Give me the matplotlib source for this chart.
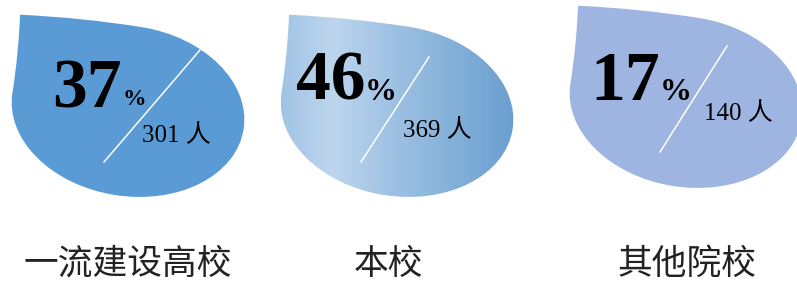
import numpy as np
import matplotlib.pyplot as plt
from matplotlib.path import Path
from matplotlib.patches import PathPatch
from matplotlib.colors import LinearSegmentedColormap

#%% datos
categorias = ['一流建设高校', '本校', '其他院校']
porcentajes = [37, 46, 17]
personas = [301, 369, 140]

#%% layout (pixeles, y hacia abajo)
W, H = 797, 282
centros = [(128, 111), (397, 111), (686, 102)]
rx, ry, rot = 117, 85, 9.0
tip = (-1.04, -0.92)
colores = ['#5B9BD5', None, '#9DB5E0']
grad = ['#A0C3E5', '#BDD6EE', '#9CC0E2', '#6A9FD0']

num_pos = [(52, 107), (296, 100), (590, 100)]
pct_pos = [(123, 105), (365, 100), (660, 100)]
pct_size = [17, 23, 23]
cnt_pos = [(142, 142), (403, 137), (704, 120)]
lineas = [((104, 162), (200, 50)), ((361, 162), (429, 57)), ((660, 152), (727, 46))]
lab_x = [128, 388, 687]
lab_y = 274


def gota(cx, cy):
    k = 0.5523
    tx, ty = tip
    pts = [(0, -1),
           (k, -1), (1, -k), (1, 0),
           (1, k), (k, 1), (0, 1),
           (-k, 1), (-1, k), (-1, 0),
           (-1, ty / 2), (tx, ty),
           (tx / 2, -1), (0, -1),
           (0, -1)]
    codes = ([Path.MOVETO] + [Path.CURVE4] * 9 + [Path.CURVE3] * 4 + [Path.CLOSEPOLY])
    pts = np.array(pts, float) * [rx, ry]
    a = np.deg2rad(rot)
    R = np.array([[np.cos(a), -np.sin(a)], [np.sin(a), np.cos(a)]])
    pts = pts @ R.T + [cx, cy]
    return Path(pts, codes)


fig = plt.figure(figsize=(W / 100, H / 100), dpi=100)
ax = fig.add_axes([0, 0, 1, 1])

for i in range(3):
    cx, cy = centros[i]
    path = gota(cx, cy)
    if colores[i] is not None:
        ax.add_patch(PathPatch(path, facecolor=colores[i], edgecolor='none'))
    else:
        # gota con degradado horizontal
        patch = PathPatch(path, facecolor='none', edgecolor='none')
        ax.add_patch(patch)
        cmap = LinearSegmentedColormap.from_list('g', list(zip([0, 0.22, 0.5, 1], grad)))
        ext = path.get_extents()
        im = ax.imshow(np.linspace(0, 1, 256)[None, :], cmap=cmap,
                       extent=[ext.x0, ext.x1, ext.y1, ext.y0], interpolation='bilinear')
        im.set_clip_path(patch)

    (x0, y0), (x1, y1) = lineas[i]
    ax.plot([x0, x1], [y0, y1], color='white', lw=1.1)

    ax.text(*num_pos[i], str(porcentajes[i]), fontsize=50, fontweight='bold',
            family='Liberation Serif', ha='left', va='baseline')
    ax.text(*pct_pos[i], '%', fontsize=pct_size[i], fontweight='bold',
            family='Liberation Serif', ha='left', va='baseline')
    ax.text(*cnt_pos[i], f'{personas[i]} 人', fontsize=18,
            family=['Liberation Serif', 'Noto Sans CJK SC'], ha='left', va='baseline')

    ax.text(lab_x[i], lab_y, categorias[i], fontsize=25, family='Noto Sans CJK SC',
            ha='center', va='baseline', color='#222222')

ax.set_xlim(0, W)
ax.set_ylim(H, 0)
ax.set_aspect('auto')
ax.axis('off')
fig.savefig('out.png', dpi=100)
